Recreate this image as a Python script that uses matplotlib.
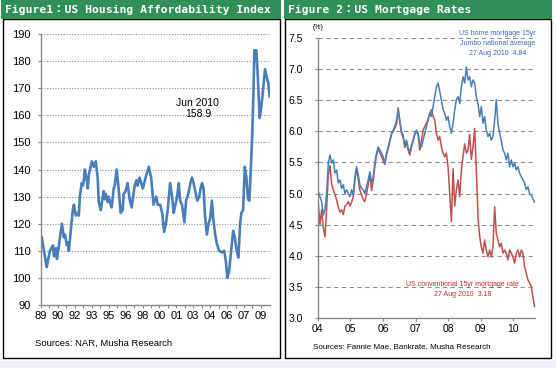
import numpy as np
import pandas as pd
import matplotlib
matplotlib.use("Agg")
import matplotlib.pyplot as plt
from matplotlib.patches import Rectangle

W, H = 556, 368

# Figure 1: US Housing Affordability Index (decimal year, index value)
hai_year = [1989.07, 1989.53, 1989.84, 1990.12, 1990.21, 1990.40, 1990.49, 1990.68, 1990.96, 1991.14,
            1991.24, 1991.42, 1991.52, 1991.61, 1991.80, 1991.98, 1992.08, 1992.26, 1992.45, 1992.54,
            1992.64, 1992.82, 1992.92, 1993.01, 1993.10, 1993.29, 1993.38, 1993.48, 1993.76, 1993.94,
            1994.13, 1994.31, 1994.41, 1994.59, 1994.87, 1994.97, 1995.06, 1995.25, 1995.34, 1995.53,
            1995.62, 1995.81, 1995.90, 1996.09, 1996.27, 1996.46, 1996.65, 1996.74, 1996.93, 1997.11,
            1997.30, 1997.49, 1997.77, 1997.95, 1998.04, 1998.23, 1998.54, 1998.86, 1999.10, 1999.32,
            1999.54, 1999.79, 1999.94, 2000.16, 2000.35, 2000.53, 2000.72, 2000.87, 2001.09, 2001.28,
            2001.43, 2001.59, 2001.75, 2001.90, 2002.03, 2002.21, 2002.43, 2002.59, 2002.80, 2002.99,
            2003.14, 2003.29, 2003.45, 2003.64, 2003.83, 2003.95, 2004.08, 2004.23, 2004.36, 2004.54,
            2004.69, 2004.85, 2005.01, 2005.13, 2005.32, 2005.48, 2005.69, 2005.94, 2006.16, 2006.31,
            2006.46, 2006.62, 2006.81, 2007.00, 2007.15, 2007.30, 2007.49, 2007.65, 2007.77, 2007.93,
            2008.09, 2008.24, 2008.39, 2008.52, 2008.65, 2008.77, 2008.89, 2008.99, 2009.17, 2009.30,
            2009.48, 2009.63, 2009.79, 2009.98, 2010.14, 2010.29, 2010.42]
hai_value = [115, 104, 110, 112, 108, 111, 107, 112, 120, 115,
             116, 112, 113, 110, 118, 125, 127, 123, 124, 123,
             130, 135, 134, 136, 140, 136, 133, 138, 143, 141,
             143, 137, 128, 125, 132, 129, 131, 128, 130, 127,
             126, 133, 134, 140, 133, 124, 125, 131, 132, 135,
             129, 126, 134, 136, 134, 137, 133, 138, 141, 137,
             127, 130, 127, 127, 124, 117, 120.5, 125, 135, 130,
             124, 127, 130, 135, 128.5, 127, 120.5, 128.5, 131, 135,
             137, 135, 132, 128.5, 130, 133, 135, 133, 123, 116,
             120, 122, 128.5, 122, 116, 112.5, 110, 109.4, 110, 106.3,
             100, 102.6, 110, 117.4, 115, 110.6, 107.5, 120, 124, 125,
             141, 137, 129, 128.5, 140, 151, 167, 184, 184, 175,
             159, 163, 169, 177, 174, 172, 167]
hai_labels = ['89', '90', '92', '93', '95', '96', '98', '00', '01', '03', '04', '06', '07', '09']

# Figure 2: US mortgage rates (%)
rate_dates = pd.date_range("2004-01-08", "2010-08-27", periods=131)
jumbo_rate = [5.03, 4.95, 4.87, 4.65, 4.74, 5.00, 5.49, 5.62, 5.49, 5.54,
              5.33, 5.38, 5.17, 5.22, 5.08, 5.14, 5.00, 5.06, 5.00, 4.95,
              5.06, 4.98, 5.27, 5.43, 5.30, 5.14, 5.08, 5.06, 5.00, 5.11,
              5.22, 5.35, 5.17, 5.27, 5.49, 5.65, 5.75, 5.70, 5.65, 5.59,
              5.49, 5.65, 5.75, 5.86, 5.97, 6.02, 6.08, 6.18, 6.35, 6.18,
              6.00, 5.94, 5.78, 5.86, 5.73, 5.67, 5.78, 5.86, 5.97, 6.02,
              5.97, 5.80,
              5.75, 5.86, 5.97, 6.08, 6.18, 6.29, 6.24, 6.40, 6.56, 6.72,
              6.78, 6.64, 6.51, 6.35, 6.29, 6.18, 6.24, 6.08, 5.97, 6.13,
              6.35, 6.51, 6.56, 6.45, 6.72, 6.88, 6.78, 7.04, 6.83, 6.88,
              6.72, 6.83, 6.78, 6.56, 6.45, 6.24, 6.40, 6.13, 6.24, 6.02,
              5.92, 5.97, 5.86, 5.92, 6.18, 6.51, 6.13, 5.97, 5.86, 5.70,
              5.65, 5.54, 5.65, 5.43, 5.54, 5.43, 5.49, 5.38, 5.43, 5.33,
              5.27, 5.22, 5.17, 5.06, 5.11, 5.00, 4.98, 4.92, 4.86]
conv_rate = [4.84, 4.50, 4.74, 4.45, 4.30, 4.75, 5.30, 5.45, 5.15, 5.06,
             4.98, 4.90, 4.78, 4.70, 4.74, 4.66, 4.80, 4.82, 4.87, 4.80,
             4.86, 4.95, 5.22, 5.40, 5.22, 5.05, 4.98, 4.90, 4.87, 5.00,
             5.15, 5.30, 5.05, 5.20, 5.45, 5.62, 5.72, 5.66, 5.60, 5.52,
             5.47, 5.62, 5.72, 5.84, 5.95, 6.00, 6.05, 6.12, 6.38, 6.15,
             5.97, 5.90, 5.74, 5.82, 5.70, 5.62, 5.75, 5.84, 5.95, 6.00,
             5.95, 5.70,
             5.85, 6.02, 6.08, 6.13, 6.20, 6.29, 6.35, 6.24, 6.18, 5.97,
             5.86, 5.92, 5.75, 5.65, 5.59, 5.65, 5.43, 5.00, 4.55, 5.40,
             4.80, 5.06, 5.22, 4.95, 5.38, 5.60, 5.80, 5.65, 5.70, 5.95,
             5.55, 5.75, 6.05, 5.38, 4.62, 4.31, 4.14, 4.04, 4.25, 4.09,
             3.98, 4.09, 3.98, 4.14, 4.79, 4.36, 4.25, 4.14, 4.20, 4.04,
             4.09, 4.04, 3.93, 4.09, 4.04, 3.98, 3.88, 4.04, 4.09, 3.98,
             4.09, 4.04, 3.82, 3.72, 3.61, 3.56, 3.50, 3.34, 3.18]
rate_labels = ['04', '05', '06', '07', '08', '09', '10']
rate_ticks = [pd.Timestamp(f"20{y}-01-01") for y in rate_labels]

assert len(hai_year) == len(hai_value)
assert len(jumbo_rate) == len(rate_dates) == len(conv_rate)

plt.rcParams['font.family'] = ['Liberation Sans', 'DejaVu Sans']
green = '#31905a'
axis_gray = '#888888'
blue = '#4a7ebb'
red = '#c0504d'

fig = plt.figure(figsize=(W / 100, H / 100), dpi=100)


def rect(x0, y0, x1, y1, **kw):
    # pixel box (top-left origin) -> figure fraction rectangle
    r = Rectangle((x0 / W, 1 - y1 / H), (x1 - x0) / W, (y1 - y0) / H,
                  transform=fig.transFigure, **kw)
    fig.patches.append(r)


rect(0, 361, W, H, fc='#eef0f6', ec='none')
for x0, x1 in [(3, 280), (285, 551)]:
    rect(x0, 19, x1, 358, fill=False, ec='black', lw=1)
rect(1, 0, 281, 19, fc=green, ec='none')
rect(284, 0, 552, 19, fc=green, ec='none')

title_font = dict(color='white', fontweight='bold', fontsize=8.2, va='center', ha='left',
                  family=['DejaVu Sans Mono', 'Noto Sans CJK JP'])
fig.text(5 / W, 1 - 10 / H, "Figure1：US Housing Affordability Index", **title_font)
fig.text(288 / W, 1 - 10 / H, "Figure 2：US Mortgage Rates", **title_font)


def style_axes(ax):
    for s in ['top', 'right']:
        ax.spines[s].set_visible(False)
    for s in ['left', 'bottom']:
        ax.spines[s].set_color(axis_gray)
        ax.spines[s].set_linewidth(1)
    ax.tick_params(which='both', colors=axis_gray, direction='out', length=2.5, width=0.8)
    ax.tick_params(labelcolor='black')


# ---- Figure 1 ----
ax1 = fig.add_axes([41 / W, 1 - 305 / H, 229 / W, 271 / H])
style_axes(ax1)
ax1.plot(hai_year, hai_value, color=blue, lw=1.9, solid_joinstyle='round')
ax1.set_ylim(90, 190)
ax1.set_xlim(1989.0, 2010.45)
ax1.set_yticks(np.arange(90, 191, 10))
ax1.yaxis.grid(True, color='#909090', linestyle=(0, (1, 1.5)), lw=0.8)
ax1.set_axisbelow(True)
hai_ticks = np.linspace(1989.0, 2009.6, len(hai_labels))
ax1.set_xticks(hai_ticks)
ax1.set_xticklabels(hai_labels)
ax1.set_xticks((hai_ticks[:-1] + hai_ticks[1:]) / 2, minor=True)
ax1.tick_params(axis='x', labelsize=8, pad=1.5)
ax1.tick_params(axis='y', labelsize=8, pad=5)
ax1.text(2003.7, 162.5, "Jun 2010\n158.9", fontsize=7.5, ha='center', va='center', linespacing=1.1)
fig.text(35 / W, 1 - 343 / H, "Sources: NAR, Musha Research", fontsize=6.8, va='center')

# ---- Figure 2 ----
ax2 = fig.add_axes([317.7 / W, 1 - 317.7 / H, 217.3 / W, 279.4 / H])
style_axes(ax2)
ax2.plot(rate_dates, conv_rate, color=red, lw=1.1)
ax2.plot(rate_dates, jumbo_rate, color=blue, lw=1.1)
ax2.set_ylim(3.0, 7.5)
ax2.set_xlim(pd.Timestamp("2004-01-01"), pd.Timestamp("2010-09-01"))
ax2.set_yticks(np.arange(3.0, 7.51, 0.5))
ax2.set_yticklabels([f"{v:.1f}" for v in np.arange(3.0, 7.51, 0.5)])
ax2.set_xticks(rate_ticks)
ax2.set_xticklabels(rate_labels)
ax2.yaxis.grid(True, color='#909090', linestyle=(0, (4, 3)), lw=0.8)
ax2.set_axisbelow(True)
ax2.tick_params(axis='x', labelsize=7.5, pad=2)
ax2.tick_params(axis='y', labelsize=7.5, pad=8)
ax2.text(0.0, 1.04, "(%)", transform=ax2.transAxes, fontsize=5, ha='center', va='center')
ax2.text(pd.Timestamp("2009-07-05"), 7.41,
         "US home mortgage 15yr\nJumbo national average\n27 Aug 2010  4.84",
         color='#3a66c4', fontsize=5, ha='center', va='center', linespacing=1.6)
ax2.text(pd.Timestamp("2008-06-10"), 3.46,
         "US conventional 15yr mortgage rate\n27 Aug 2010  3.18",
         color='#c8282a', fontsize=5, ha='center', va='center', linespacing=1.6)
fig.text(313 / W, 1 - 347 / H, "Sources: Fannie Mae, Bankrate, Musha Research", fontsize=5.8, va='center')

fig.savefig("out.png", dpi=100)
